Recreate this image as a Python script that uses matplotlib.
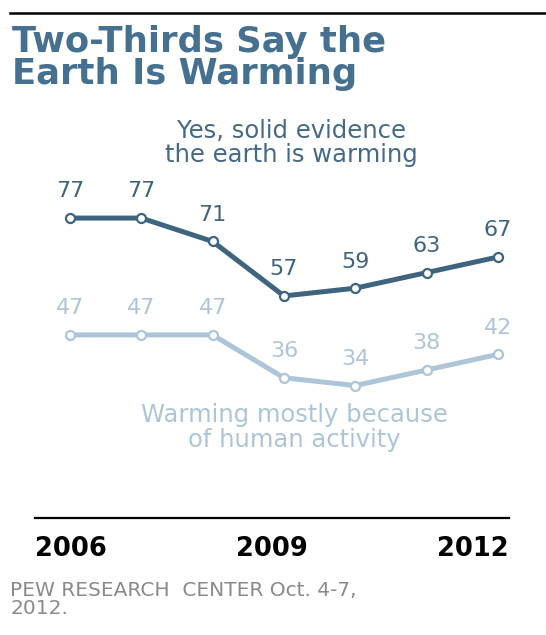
import matplotlib
matplotlib.use("Agg")
import matplotlib.pyplot as plt
from matplotlib.lines import Line2D

# Pew survey waves, one point per year
years = [2006, 2007, 2008, 2009, 2010, 2011, 2012]
solid_evidence = [77, 77, 71, 57, 59, 63, 67]
human_activity = [47, 47, 47, 36, 34, 38, 42]
year_labels = ["2006", "2009", "2012"]

DARK = "#3e6480"
LIGHT = "#adc5d8"
TITLE = "#46708f"

plt.rcParams["font.family"] = ["DejaVu Sans"]

fig = plt.figure(figsize=(5.46, 6.35), dpi=100)

# top rule + title
fig.add_artist(Line2D([10 / 546, 1.0], [1 - 13 / 635] * 2, color="black", lw=1.8))
fig.text(12 / 546, 1 - 25 / 635, "Two-Thirds Say the\nEarth Is Warming",
         ha="left", va="top", fontsize=25.5, fontweight="bold", color=TITLE,
         linespacing=0.92)

ax = fig.add_axes([35 / 546, 1 - 518 / 635, 474 / 546, 409 / 635])
idx = list(range(len(years)))

for vals, col in [(solid_evidence, DARK), (human_activity, LIGHT)]:
    ax.plot(idx, vals, color=col, lw=3.6, solid_joinstyle="round",
            solid_capstyle="round", zorder=2)
    ax.plot(idx, vals, ls="none", marker="o", ms=6.5, mfc="white",
            mec=col, mew=1.6, zorder=3)
    for i, v in zip(idx, vals):
        ax.annotate(str(v), (i, v), xytext=(0, 12), textcoords="offset points",
                    ha="center", va="bottom", fontsize=16, color=col)

ax.text(3.10, 96.3, "Yes, solid evidence\nthe earth is warming", ha="center",
        va="center", fontsize=17.5, color="#466a85", linespacing=1.02)
ax.text(3.15, 23.2, "Warming mostly because\nof human activity", ha="center",
        va="center", fontsize=17.5, color=LIGHT, linespacing=1.02)

ax.set_xlim(-0.49, 6.155)
ax.set_ylim(0, 105)

for s in ["top", "left", "right"]:
    ax.spines[s].set_visible(False)
ax.spines["bottom"].set_linewidth(1.6)
ax.set_yticks([])

# year labels sit at the start, middle and end of the baseline
lo, hi = ax.get_xlim()
ax.set_xticks([lo, (lo + hi) / 2, hi])
ax.set_xticklabels(year_labels, fontsize=18.5, fontweight="bold")
ax.tick_params(axis="x", length=0, pad=13)
for lab, ha in zip(ax.get_xticklabels(), ["left", "center", "right"]):
    lab.set_ha(ha)

fig.text(10 / 546, 1 - 581 / 635, "PEW RESEARCH  CENTER Oct. 4-7,\n2012.",
         ha="left", va="top", fontsize=14.5, color="#8c8890", linespacing=0.95)

fig.savefig("out.png", dpi=100)
